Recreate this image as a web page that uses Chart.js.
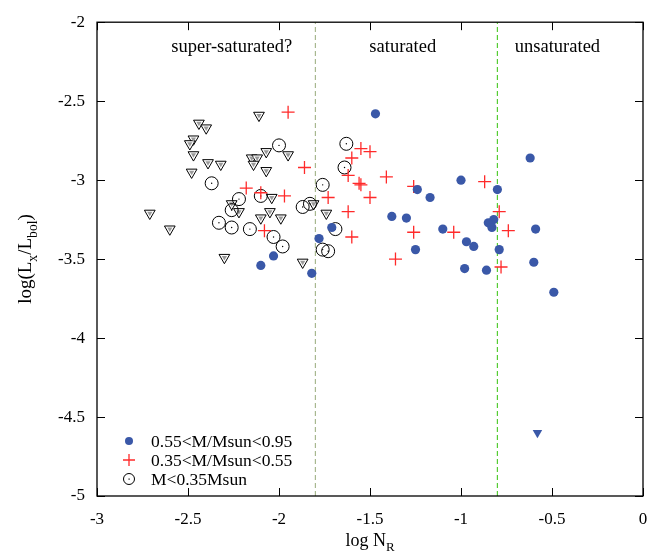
<!DOCTYPE html>
<html>
<head>
<meta charset="utf-8">
<script src="https://cdn.jsdelivr.net/npm/chart.js@4.4.0/dist/chart.umd.min.js"></script>
<style>
  html, body { margin: 0; padding: 0; background: #fff; }
</style>
</head>
<body>
<canvas id="chart" width="663" height="553"></canvas>
<script>
// 0.55 < M/Msun < 0.95
const blueX = [-2.10, -2.03, -1.82, -1.78, -1.47, -1.71, -1.24, -1.17, -1.00, -1.38, -1.30, -1.10, -1.25,
               -0.97, -0.93, -0.98, -0.86, -0.80, -0.62, -0.82, -0.85, -0.83, -0.59, -0.79, -0.60, -0.49];
const blueY = [-3.54, -3.48, -3.59, -3.37, -2.58, -3.30, -3.06, -3.11, -3.00, -3.23, -3.24, -3.31, -3.44,
               -3.39, -3.42, -3.56, -3.57, -3.06, -2.86, -3.25, -3.27, -3.30, -3.31, -3.44, -3.52, -3.71];
// upper limit in the blue group
const blueLimX = [-0.58];
const blueLimY = [-4.60];

// 0.35 < M/Msun < 0.55
const redX = [-1.95, -1.86, -2.18, -2.10, -1.97, -2.08, -1.55, -1.50, -1.60, -1.62, -1.56, -1.55, -1.41,
              -1.26, -1.73, -1.50, -1.62, -1.60, -1.26, -1.04, -1.36, -0.87, -0.79, -0.74, -0.78];
const redY = [-2.57, -2.92, -3.05, -3.08, -3.10, -3.32, -2.80, -2.82, -2.86, -2.97, -3.02, -3.03, -2.98,
              -3.04, -3.11, -3.11, -3.20, -3.36, -3.33, -3.33, -3.50, -3.01, -3.20, -3.32, -3.55];

// M < 0.35 Msun
const lowX = [-2.00, -2.37, -2.22, -2.10, -2.26, -2.33, -2.26, -2.16, -2.03, -1.98, -1.87, -1.83, -1.76,
              -1.63, -1.64, -1.69, -1.76, -1.73];
const lowY = [-2.78, -3.02, -3.12, -3.10, -3.19, -3.27, -3.30, -3.31, -3.36, -3.42, -3.17, -3.15, -3.03,
              -2.77, -2.92, -3.31, -3.44, -3.45];

// upper limits (M < 0.35 Msun)
const limX = [-2.11, -2.44, -2.40, -2.47, -2.49, -2.47, -2.39, -2.32, -2.48, -2.15, -2.12, -2.14, -2.07, -1.95,
              -2.07, -2.71, -2.60, -2.26, -2.22, -2.04, -2.05, -2.10, -1.99, -2.30, -1.87, -1.81, -1.74];
const limY = [-2.59, -2.64, -2.67, -2.74, -2.77, -2.84, -2.89, -2.90, -2.95, -2.86, -2.86, -2.90, -2.82, -2.84,
              -2.94, -3.21, -3.31, -3.15, -3.20, -3.11, -3.20, -3.24, -3.24, -3.49, -3.52, -3.15, -3.21];

// regime boundaries and labels
const boundaries = [-1.8, -0.8];
const regionNames = ['super-saturated?', 'saturated', 'unsaturated'];
const regionX = [-2.26, -1.32, -0.47];
const regionY = -2.16;

const xTicks = [-3, -2.5, -2, -1.5, -1, -0.5, 0];
const yTicks = [-5, -4.5, -4, -3.5, -3, -2.5, -2];

const legendNames = ['0.55<M/Msun<0.95', '0.35<M/Msun<0.55', 'M<0.35Msun'];

const BLUE = '#3a58a8';
const RED = '#ff2a2a';
const FONT = '"Liberation Serif", "DejaVu Serif", serif';

const pts = (xs, ys) => xs.map((v, i) => ({ x: v, y: ys[i] }));

function drawParts(ctx, parts, size) {
  // parts: [text, isSub]
  let w = 0;
  parts.forEach(p => {
    ctx.font = (p[1] ? size * 0.72 : size) + 'px ' + FONT;
    w += ctx.measureText(p[0]).width;
  });
  let x = -w / 2;
  parts.forEach(p => {
    ctx.font = (p[1] ? size * 0.72 : size) + 'px ' + FONT;
    ctx.fillText(p[0], x, p[1] ? size * 0.3 : 0);
    x += ctx.measureText(p[0]).width;
  });
}

const decor = {
  id: 'decor',
  afterDraw(chart) {
    const { ctx, chartArea: a, scales: { x, y } } = chart;
    ctx.save();
    ctx.strokeStyle = '#000';
    ctx.lineWidth = 1.3;
    ctx.strokeRect(a.left, a.top, a.right - a.left, a.bottom - a.top);

    // inward ticks on all sides
    ctx.lineWidth = 1;
    ctx.beginPath();
    xTicks.forEach(v => {
      const px = Math.round(x.getPixelForValue(v)) + 0.5;
      ctx.moveTo(px, a.bottom); ctx.lineTo(px, a.bottom - 8);
      ctx.moveTo(px, a.top); ctx.lineTo(px, a.top + 8);
    });
    yTicks.forEach(v => {
      const py = Math.round(y.getPixelForValue(v)) + 0.5;
      ctx.moveTo(a.left, py); ctx.lineTo(a.left + 8, py);
      ctx.moveTo(a.right, py); ctx.lineTo(a.right - 8, py);
    });
    ctx.stroke();

    // region labels
    ctx.fillStyle = '#000';
    ctx.font = '18.5px ' + FONT;
    ctx.textAlign = 'center';
    ctx.textBaseline = 'middle';
    regionNames.forEach((t, i) => {
      ctx.fillText(t, x.getPixelForValue(regionX[i]), y.getPixelForValue(regionY));
    });

    // legend
    const lx = 129, tx = 151;
    const ly = [441, 460, 479];
    ctx.textAlign = 'left';
    ctx.font = '17.5px ' + FONT;
    legendNames.forEach((t, i) => ctx.fillText(t, tx, ly[i] + 1));
    ctx.fillStyle = BLUE;
    ctx.beginPath(); ctx.arc(lx, ly[0], 4, 0, Math.PI * 2); ctx.fill();
    ctx.strokeStyle = RED; ctx.lineWidth = 1.3;
    ctx.beginPath();
    ctx.moveTo(lx - 6, ly[1]); ctx.lineTo(lx + 6, ly[1]);
    ctx.moveTo(lx, ly[1] - 6); ctx.lineTo(lx, ly[1] + 6);
    ctx.stroke();
    ctx.strokeStyle = '#000'; ctx.lineWidth = 1;
    ctx.beginPath(); ctx.arc(lx, ly[2], 5.5, 0, Math.PI * 2); ctx.stroke();
    ctx.fillStyle = '#000';
    ctx.fillRect(lx - 0.5, ly[2] - 0.5, 1.2, 1.2);

    // axis titles
    ctx.fillStyle = '#000';
    ctx.textAlign = 'left';
    ctx.textBaseline = 'alphabetic';
    ctx.save();
    ctx.translate((a.left + a.right) / 2, 546);
    drawParts(ctx, [['log N', false], ['R', true]], 18);
    ctx.restore();
    ctx.save();
    ctx.translate(31, 259);
    ctx.rotate(-Math.PI / 2);
    drawParts(ctx, [['log(L', false], ['x', true], ['/L', false], ['bol', true], [')', false]], 19);
    ctx.restore();
    ctx.restore();
  }
};

const tickFmt = v => String(Math.round(v * 10) / 10);

new Chart(document.getElementById('chart'), {
  type: 'scatter',
  data: {
    datasets: [
      { label: legendNames[0], data: pts(blueX, blueY), pointStyle: 'circle', pointRadius: 4.6,
        backgroundColor: BLUE, borderColor: BLUE, borderWidth: 0 },
      { label: 'blue limit', data: pts(blueLimX, blueLimY), pointStyle: 'triangle', rotation: 180,
        pointRadius: 5.5, backgroundColor: BLUE, borderColor: BLUE, borderWidth: 0 },
      { label: legendNames[1], data: pts(redX, redY), pointStyle: 'cross', pointRadius: 6.5,
        borderColor: RED, borderWidth: 1.3 },
      { label: 'dots', data: pts(lowX, lowY), pointStyle: 'circle', pointRadius: 0.7,
        backgroundColor: '#000', borderWidth: 0 },
      { label: legendNames[2], data: pts(lowX, lowY), pointStyle: 'circle', pointRadius: 6.5,
        backgroundColor: 'rgba(0,0,0,0)', borderColor: '#000', borderWidth: 1 },
      { label: 'limit shade', data: pts(limX, limY), pointStyle: 'triangle', rotation: 180,
        pointRadius: 3, backgroundColor: '#9a9a9a', borderWidth: 0 },
      { label: 'limits', data: pts(limX, limY), pointStyle: 'triangle', rotation: 180,
        pointRadius: 6.2, backgroundColor: '#fff', borderColor: '#000', borderWidth: 1 },
      { type: 'line', label: 'b1', data: [{ x: boundaries[0], y: -5 }, { x: boundaries[0], y: -2 }],
        borderColor: '#a8b890', borderWidth: 1.2, borderDash: [5, 3], pointRadius: 0 },
      { type: 'line', label: 'b2', data: [{ x: boundaries[1], y: -5 }, { x: boundaries[1], y: -2 }],
        borderColor: '#55cc33', borderWidth: 1.2, borderDash: [5, 3], pointRadius: 0 }
    ]
  },
  options: {
    responsive: false,
    animation: false,
    devicePixelRatio: 1,
    layout: { padding: { left: 0, right: 20, top: 18, bottom: 0 } },
    plugins: { legend: { display: false }, tooltip: { enabled: false } },
    scales: {
      x: {
        type: 'linear', min: -3, max: 0,
        afterFit: s => { s.height = 57; },
        afterBuildTicks: s => { s.ticks = xTicks.map(v => ({ value: v })); },
        grid: { display: false, drawTicks: false },
        border: { display: false },
        ticks: { callback: tickFmt, color: '#000', padding: 13, maxRotation: 0,
                 font: { family: FONT, size: 17 } }
      },
      y: {
        type: 'linear', min: -5, max: -2,
        afterFit: s => { s.width = 97; },
        afterBuildTicks: s => { s.ticks = yTicks.map(v => ({ value: v })); },
        grid: { display: false, drawTicks: false },
        border: { display: false },
        ticks: { callback: tickFmt, color: '#000', padding: 12,
                 font: { family: FONT, size: 17 } }
      }
    }
  },
  plugins: [decor]
});
</script>
</body>
</html>
